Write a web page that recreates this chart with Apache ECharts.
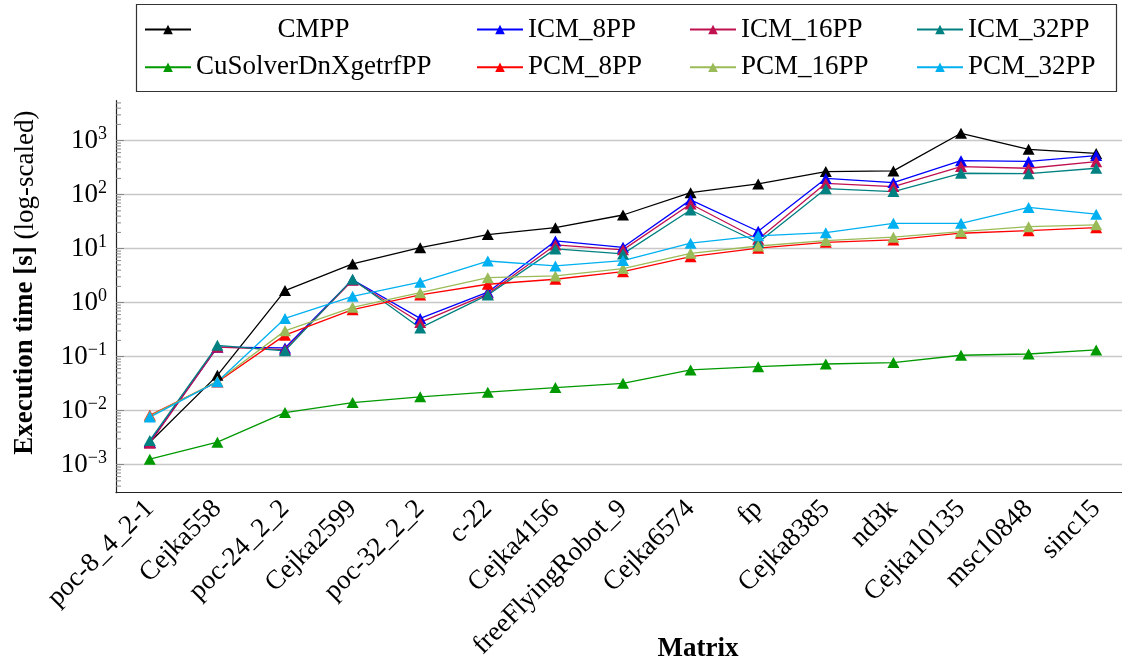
<!DOCTYPE html>
<html>
<head>
<meta charset="utf-8">
<script src="https://cdn.jsdelivr.net/npm/echarts@6/dist/echarts.min.js"></script>
<style>
  html, body { margin: 0; padding: 0; background: #fff; }
  #chart { width: 1122px; height: 666px; }
</style>
</head>
<body>
<div id="chart"></div>
<script>
// Matrices (x axis categories)
const matrices = ['poc-8_4_2-1', 'Cejka558', 'poc-24_2_2', 'Cejka2599', 'poc-32_2_2', 'c-22',
  'Cejka4156', 'freeFlyingRobot_9', 'Cejka6574', 'fp', 'Cejka8385', 'nd3k', 'Cejka10135',
  'msc10848', 'sinc15'];

// Execution time in seconds per solver
const CMPP         = [0.0026, 0.045, 1.67, 5.2, 10.4, 18.2, 24.5, 42, 109, 158, 267, 275, 1370, 690, 580];
const ICM_8PP      = [0.0026, 0.15, 0.145, 2.65, 0.51, 1.56, 13.9, 10.6, 80, 21, 200, 167, 426, 412, 530];
const ICM_16PP     = [0.0025, 0.15, 0.135, 2.6, 0.43, 1.45, 11.7, 9.5, 67, 14.9, 162, 141, 331, 308, 408];
const ICM_32PP     = [0.0028, 0.162, 0.128, 2.72, 0.34, 1.39, 9.9, 8.0, 52, 13, 129, 114, 249, 245, 308];
const CuSolverDnXgetrfPP = [0.00126, 0.0026, 0.0092, 0.0141, 0.018, 0.022, 0.0267, 0.032, 0.0567, 0.0653, 0.073, 0.0775, 0.106, 0.112, 0.133];
const PCM_8PP      = [0.0082, 0.034, 0.25, 0.74, 1.39, 2.19, 2.71, 3.75, 7.1, 10.2, 13.1, 14.5, 19.3, 21.5, 24.5];
const PCM_16PP     = [0.0079, 0.035, 0.30, 0.82, 1.53, 2.9, 3.12, 4.27, 8.2, 11.2, 14.1, 16.3, 20.6, 25.5, 27.6];
const PCM_32PP     = [0.0076, 0.0344, 0.51, 1.31, 2.39, 5.9, 4.78, 6.0, 12.6, 17.3, 19.8, 29.5, 29.5, 58, 43.5];

// Log axis range and decade labels
const yMin = Math.pow(10, -3.52);
const yMax = Math.pow(10, 3.74);
const decades = [-3, -2, -1, 0, 1, 2, 3];

// Minor tick values (2..9 within each decade)
const minorTicks = [];
for (let k = -4; k <= 3; k++) {
  for (let m = 2; m <= 9; m++) {
    const v = m * Math.pow(10, k);
    if (v > yMin && v < yMax) minorTicks.push(v);
  }
}

const FONT = 'Liberation Serif';
const FS = 27;

const seriesDefs = [
  { name: 'CMPP', data: CMPP, color: '#000000' },
  { name: 'ICM_8PP', data: ICM_8PP, color: '#0000ff' },
  { name: 'ICM_16PP', data: ICM_16PP, color: '#c0104f' },
  { name: 'ICM_32PP', data: ICM_32PP, color: '#008080' },
  { name: 'CuSolverDnXgetrfPP', data: CuSolverDnXgetrfPP, color: '#009900' },
  { name: 'PCM_8PP', data: PCM_8PP, color: '#ff0000' },
  { name: 'PCM_16PP', data: PCM_16PP, color: '#9bbb59' },
  { name: 'PCM_32PP', data: PCM_32PP, color: '#00b0f0' }
];

// Legend: 4 columns x 2 rows, filled row by row
const legendCols = [144, 476, 689, 916];
const legendRows = [16, 53.7];
const legends = seriesDefs.map((s, i) => {
  const col = i % 4, row = Math.floor(i / 4);
  const lg = {
    data: [s.name],
    left: legendCols[col],
    top: legendRows[row],
    padding: 0,
    itemWidth: 46,
    itemHeight: 12,
    selectedMode: false,
    textStyle: { fontFamily: FONT, fontSize: FS, color: '#000', lineHeight: 27 }
  };
  if (i === 0) {
    lg.formatter = n => '{c|' + n + '}';
    lg.textStyle.rich = { c: { width: 235, align: 'center', fontFamily: FONT, fontSize: FS, color: '#000', lineHeight: 27 } };
  }
  return lg;
});

const lineSeries = seriesDefs.map(s => ({
  name: s.name,
  type: 'line',
  data: s.data,
  symbol: 'triangle',
  symbolSize: [12, 11],
  showSymbol: true,
  lineStyle: { color: s.color, width: 1.3 },
  itemStyle: { color: s.color },
  emphasis: { disabled: true },
  animation: false
}));

// Minor ticks on the inner side of the y axis
const minorTickSeries = {
  type: 'custom',
  name: 'minorTicks',
  silent: true,
  animation: false,
  clip: false,
  data: minorTicks.map(v => [0, v]),
  encode: { x: 0, y: 1 },
  renderItem: function (params, api) {
    const p = api.coord([0, api.value(1)]);
    const half = api.size([1, 0])[0] / 2;
    const x = p[0] - half;
    return {
      type: 'line',
      shape: { x1: x, y1: p[1], x2: x + 5, y2: p[1] },
      style: { stroke: '#888', lineWidth: 1 }
    };
  }
};

const chart = echarts.init(document.getElementById('chart'), null, { renderer: 'canvas' });
chart.setOption({
  backgroundColor: '#fff',
  animation: false,
  textStyle: { fontFamily: FONT },
  legend: legends,
  graphic: [{
    type: 'rect',
    shape: { x: 136.5, y: 4.5, width: 980, height: 87 },
    style: { fill: 'none', stroke: '#333', lineWidth: 1.2 },
    silent: true
  }],
  grid: { left: 116, top: 100.7, width: 1014, height: 392, outerBoundsMode: 'none', containLabel: false },
  xAxis: {
    type: 'category',
    data: matrices,
    boundaryGap: true,
    name: 'Matrix',
    nameLocation: 'middle',
    nameGap: 143,
    nameMoveOverlap: false,
    nameTextStyle: { fontFamily: FONT, fontSize: FS, fontWeight: 'bold', color: '#000', padding: [0, 0, 0, 150] },
    axisLine: { lineStyle: { color: '#222', width: 1.2 } },
    axisTick: { alignWithLabel: true, inside: true, length: 10, lineStyle: { color: '#888' } },
    axisLabel: { rotate: 45, margin: 12, fontFamily: FONT, fontSize: FS, color: '#000', interval: 0 },
    splitLine: { show: false }
  },
  yAxis: {
    type: 'log',
    logBase: 10,
    min: yMin,
    max: yMax,
    name: '{b|Execution time [s]}{n| (log-scaled)}',
    nameLocation: 'middle',
    nameRotate: 90,
    nameGap: 77,
    nameMoveOverlap: false,
    nameTextStyle: {
      padding: [0, 0, 0, 28],
      rich: {
        b: { fontFamily: FONT, fontSize: FS, fontWeight: 'bold', color: '#000' },
        n: { fontFamily: FONT, fontSize: FS, color: '#000' }
      }
    },
    axisLine: { show: true, lineStyle: { color: '#222', width: 1.2 } },
    axisTick: { show: true, inside: true, length: 8, lineStyle: { color: '#888' } },
    splitLine: { show: true, showMinLine: false, showMaxLine: false, lineStyle: { color: '#c8c8c8', width: 1.3 } },
    axisLabel: {
      margin: 9,
      showMinLabel: false,
      showMaxLabel: false,
      formatter: function (v) {
        const e = Math.log10(v);
        const r = Math.round(e);
        if (Math.abs(e - r) > 1e-6 || decades.indexOf(r) < 0) return '';
        const exp = r < 0 ? '\u2212' + Math.abs(r) : String(r);
        return '{b|10}{s|' + exp + '}';
      },
      rich: {
        b: { fontFamily: FONT, fontSize: FS, color: '#000', lineHeight: 30 },
        s: { fontFamily: FONT, fontSize: 18, color: '#000', lineHeight: 18, verticalAlign: 'top' }
      }
    }
  },
  series: [minorTickSeries].concat(lineSeries)
});
</script>
</body>
</html>
